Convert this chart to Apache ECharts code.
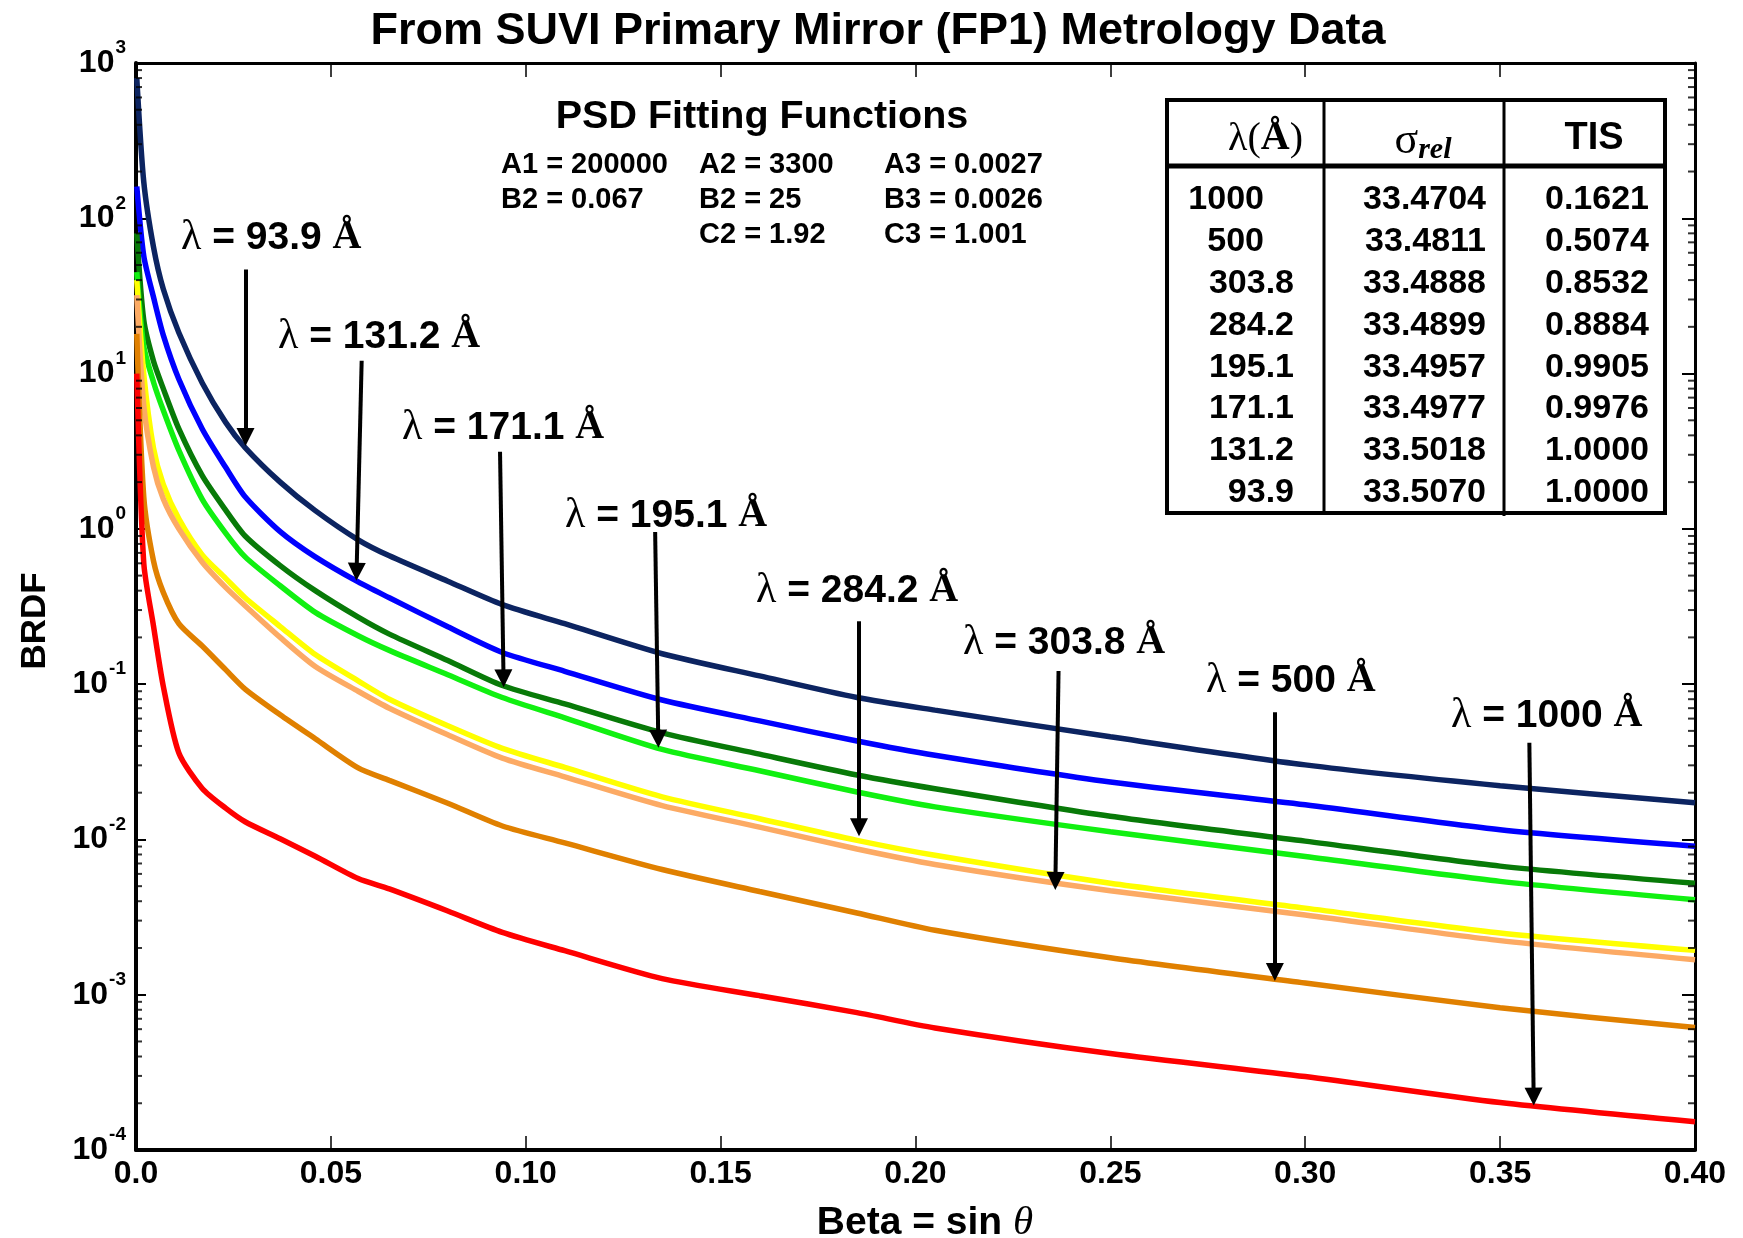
<!DOCTYPE html>
<html><head><meta charset="utf-8">
<script src="https://cdn.jsdelivr.net/npm/echarts@6/dist/echarts.min.js"></script>
<style>html,body{margin:0;padding:0;background:#fff}#c{width:1743px;height:1238px}</style>
</head><body><div id="c"></div>
<script>
// ---- data ----
const betaValues = [0.0002,0.002,0.0045,0.007,0.011,0.017,0.023,0.028,0.037,0.046,0.057,0.065,0.08,0.094,0.11,0.135,0.16,0.185,0.205,0.25,0.3,0.35,0.4];
const brdf939  = [800,171,65,35,18.3,8.7,4.85,3.34,2.0,1.31,0.85,0.67,0.46,0.325,0.245,0.157,0.113,0.082,0.068,0.0458,0.0302,0.0222,0.0172];
const brdf1312 = [160,57,31,17.7,9.2,4.4,2.49,1.61,0.96,0.66,0.455,0.36,0.234,0.16,0.121,0.079,0.058,0.043,0.0348,0.0234,0.0167,0.01154,0.00904];
const brdf1711 = [80,22,12,8.0,4.4,2.2,1.32,0.90,0.58,0.40,0.27,0.21,0.142,0.098,0.0746,0.0486,0.0354,0.026,0.0212,0.0141,0.00975,0.00673,0.00522];
const brdf1951 = [45,15,8.8,5.8,3.2,1.55,0.94,0.66,0.43,0.29,0.205,0.165,0.115,0.082,0.0607,0.038,0.0277,0.0202,0.0162,0.0112,0.00776,0.00537,0.00409];
const brdf2842 = [40,9.9,3.3,1.93,1.16,0.68,0.48,0.36,0.235,0.155,0.105,0.08,0.054,0.0386,0.0291,0.0188,0.0136,0.00986,0.0079,0.00522,0.00361,0.0025,0.00193];
const brdf3038 = [32,6.2,2.5,1.56,1.0,0.61,0.42,0.32,0.2,0.13,0.09,0.07,0.0472,0.0334,0.0253,0.0165,0.012,0.00867,0.0069,0.00467,0.00326,0.00223,0.00168];
const brdf500  = [18,1.6,0.62,0.39,0.245,0.176,0.124,0.093,0.0635,0.0445,0.0289,0.024,0.0171,0.0122,0.0095,0.0064,0.00462,0.00336,0.0026,0.00173,0.00119,0.000824,0.000614];
const brdf1000 = [10,0.6,0.236,0.097,0.036,0.0213,0.0159,0.013,0.0101,0.0078,0.0056,0.0048,0.00346,0.00252,0.00192,0.00127,0.000986,0.000767,0.000611,0.000418,0.000297,0.000202,0.000152];

const wavelengths = ['93.9','131.2','171.1','195.1','284.2','303.8','500','1000'];
const curveColors = ['#0c2461','#0000ff','#087a08','#11f011','#ffff00','#fcaa64','#e08000','#ff0000'];
const curveData = [brdf939,brdf1312,brdf1711,brdf1951,brdf2842,brdf3038,brdf500,brdf1000];

// arrows: [betaStart, brdfStart, betaEnd, brdfEnd]
const arrows = [
  [0.0281,46.8,0.0281,3.9],
  [0.0579,12.1,0.0566,0.53],
  [0.0934,3.14,0.0943,0.109],
  [0.1332,0.955,0.134,0.0445],
  [0.1855,0.254,0.1855,0.012],
  [0.2367,0.1216,0.2359,0.0054],
  [0.2922,0.0659,0.2922,0.0014],
  [0.3575,0.0419,0.3586,0.000221]
];

const yDecades = [-4,-3,-2,-1,0,1,2,3];
const minorMantissas = [2,3,4,5,6,7,8,9];

const tableLambda = ['1000','500','303.8','284.2','195.1','171.1','131.2','93.9'];
const tableSigma  = ['33.4704','33.4811','33.4888','33.4899','33.4957','33.4977','33.5018','33.5070'];
const tableTIS    = ['0.1621','0.5074','0.8532','0.8884','0.9905','0.9976','1.0000','1.0000'];

const psdRow1 = ['A1 = 200000','A2 = 3300','A3 = 0.0027'];
const psdRow2 = ['B2 = 0.067','B2 = 25','B3 = 0.0026'];
const psdRow3 = ['','C2 = 1.92','C3 = 1.001'];

// ---- chart ----
const SANS = 'Liberation Sans, Arial, sans-serif';
const SERIF = 'Liberation Serif, Times New Roman, serif';
const chart = echarts.init(document.getElementById('c'), null, {renderer:'canvas'});

const minorPts = [];
yDecades.slice(0,-1).forEach(d => minorMantissas.forEach(m => minorPts.push(m*Math.pow(10,d))));

const series = curveData.map((arr,i) => ({
  type:'line', name:wavelengths[i], xAxisIndex:0, yAxisIndex:0,
  data: betaValues.map((b,j) => [b, arr[j]]),
  symbol:'none', smooth:0.25, clip:true,
  lineStyle:{color:curveColors[i], width:5.5},
  emphasis:{disabled:true}, silent:true, z:3
}));
series[0].markLine = {
  silent:true, symbol:['none','triangle'], symbolSize:18, animation:false,
  lineStyle:{color:'#000', width:4, type:'solid'}, label:{show:false},
  emphasis:{disabled:true},
  data: arrows.map(a => [{coord:[a[0],a[1]]},{coord:[a[2],a[3]]}])
};
series.push({
  type:'scatter', xAxisIndex:0, yAxisIndex:0, silent:true, clip:false, z:6,
  data: minorPts.map(v => [0, v]), symbol:'rect', symbolSize:[6,2], symbolOffset:[3,0],
  itemStyle:{color:'#000'}
});
series.push({
  type:'scatter', xAxisIndex:0, yAxisIndex:0, silent:true, clip:false, z:6,
  data: minorPts.map(v => [0.4, v]), symbol:'rect', symbolSize:[7,2], symbolOffset:[-3.5,0],
  itemStyle:{color:'#000'}
});

const graphics = [];
function txt(x,y,text,font,align,extra){
  const g = {type:'text', z:50, style:Object.assign({x:x,y:y,text:text,font:font,fill:'#000',textAlign:align||'left',textVerticalAlign:'middle'}, extra||{})};
  graphics.push(g); return g;
}
// title
txt(878,32,'From SUVI Primary Mirror (FP1) Metrology Data','bold 45px '+SANS,'center');
// axis names
graphics.push({type:'text', z:50, x:35, y:621, rotation:Math.PI/2,
  style:{x:0,y:0,text:'BRDF',font:'bold 35px '+SANS,fill:'#000',textAlign:'center',textVerticalAlign:'middle'}});
txt(925,1223,'{b|Beta = sin }{t|θ}','bold 39px '+SANS,'center',{rich:{
  b:{font:'bold 39px '+SANS, fill:'#000'},
  t:{font:'italic 41px '+SERIF, fill:'#000'}}});
// PSD block
txt(762,117,'PSD Fitting Functions','bold 39.5px '+SANS,'center');
const psdX = [501,699,884];
[psdRow1,psdRow2,psdRow3].forEach((row,r) => row.forEach((s,c) => { if(s) txt(psdX[c],165+r*35,s,'bold 29px '+SANS,'left'); }));
// lambda labels
const labelPos = [[181,238],[278,337],[402,428],[565,516],[756,591],[963,643],[1206,681],[1451,716]];
wavelengths.forEach((w,i) => {
  txt(labelPos[i][0],labelPos[i][1],'{l|λ}{t| = '+w+' }{a|Å}','bold 39px '+SANS,'left',{rich:{
    l:{font:'42px '+SERIF, fill:'#000'},
    t:{font:'bold 39px '+SANS, fill:'#000'},
    a:{font:'bold 40px '+SERIF, fill:'#000'}}});
});
// table box
const T = {l:1167, r:1665, t:100, b:513, c1:1324, c2:1504, h:166};
graphics.push({type:'rect', z:40, shape:{x:T.l,y:T.t,width:T.r-T.l,height:T.b-T.t}, style:{fill:'#fff',stroke:'#000',lineWidth:4}});
graphics.push({type:'line', z:41, shape:{x1:T.c1,y1:T.t,x2:T.c1,y2:T.b}, style:{stroke:'#000',lineWidth:3}});
graphics.push({type:'line', z:41, shape:{x1:T.c2,y1:T.t,x2:T.c2,y2:T.b+3}, style:{stroke:'#000',lineWidth:3}});
graphics.push({type:'line', z:41, shape:{x1:T.l,y1:T.h,x2:T.r,y2:T.h}, style:{stroke:'#000',lineWidth:5}});
txt(1303,139,'{l|λ(}{a|Å}{l|)}','40px '+SERIF,'right',{rich:{
  l:{font:'40px '+SERIF, fill:'#000'}, a:{font:'bold 40px '+SERIF, fill:'#000'}}});
txt(1423,141,'{s|σ}{r|rel}','44px '+SERIF,'center',{rich:{
  s:{font:'44px '+SERIF, fill:'#000'}, r:{font:'italic bold 30px '+SERIF, fill:'#000', padding:[18,0,0,0]}}});
txt(1594,139,'TIS','bold 38px '+SANS,'center');
tableLambda.forEach((s,i) => {
  const y = 200 + i*41.8;
  txt(s.indexOf('.')<0 ? 1264 : 1294, y, s, 'bold 34px '+SANS, 'right');
  txt(1486, y, tableSigma[i], 'bold 34px '+SANS, 'right');
  txt(1649, y, tableTIS[i], 'bold 34px '+SANS, 'right');
});

const option = {
  animation:false,
  backgroundColor:'#fff',
  grid:{left:136, top:63, width:1559, height:1087, containLabel:false},
  xAxis:[
    {type:'value', min:0, max:0.4, interval:0.05, position:'bottom',
     axisLine:{show:true, onZero:false, lineStyle:{color:'#000', width:4}},
     axisTick:{show:true, inside:true, length:14, lineStyle:{color:'#000', width:1.5}},
     axisLabel:{formatter: v => (v===0 ? '0.0' : v.toFixed(2)), color:'#000', fontSize:32, fontWeight:'bold', fontFamily:SANS, margin:8},
     splitLine:{show:false}},
    {type:'value', min:0, max:0.4, interval:0.05, position:'top',
     axisLine:{show:true, onZero:false, lineStyle:{color:'#000', width:3}},
     axisTick:{show:true, inside:true, length:14, lineStyle:{color:'#000', width:1.5}},
     axisLabel:{show:false}, splitLine:{show:false}}
  ],
  yAxis:[
    {type:'log', logBase:10, min:1e-4, max:1e3, splitNumber:7, position:'left',
     axisLine:{show:true, onZero:false, lineStyle:{color:'#000', width:4}},
     axisTick:{show:true, inside:true, length:10, lineStyle:{color:'#000', width:2}},
     axisLabel:{color:'#000', margin:10,
       formatter: v => '{b|10}{s|' + Math.round(Math.log10(v)) + '}',
       rich:{b:{fontSize:32, fontWeight:'bold', fontFamily:SANS, color:'#000'},
             s:{fontSize:19, fontWeight:'bold', fontFamily:SANS, color:'#000', padding:[0,0,30,1]}}},
     splitLine:{show:false}},
    {type:'log', logBase:10, min:1e-4, max:1e3, splitNumber:7, position:'right',
     axisLine:{show:true, onZero:false, lineStyle:{color:'#000', width:3}},
     axisTick:{show:true, inside:true, length:13, lineStyle:{color:'#000', width:2}},
     axisLabel:{show:false}, splitLine:{show:false}}
  ],
  series: series,
  graphic: graphics
};
chart.setOption(option);
</script>
</body></html>
